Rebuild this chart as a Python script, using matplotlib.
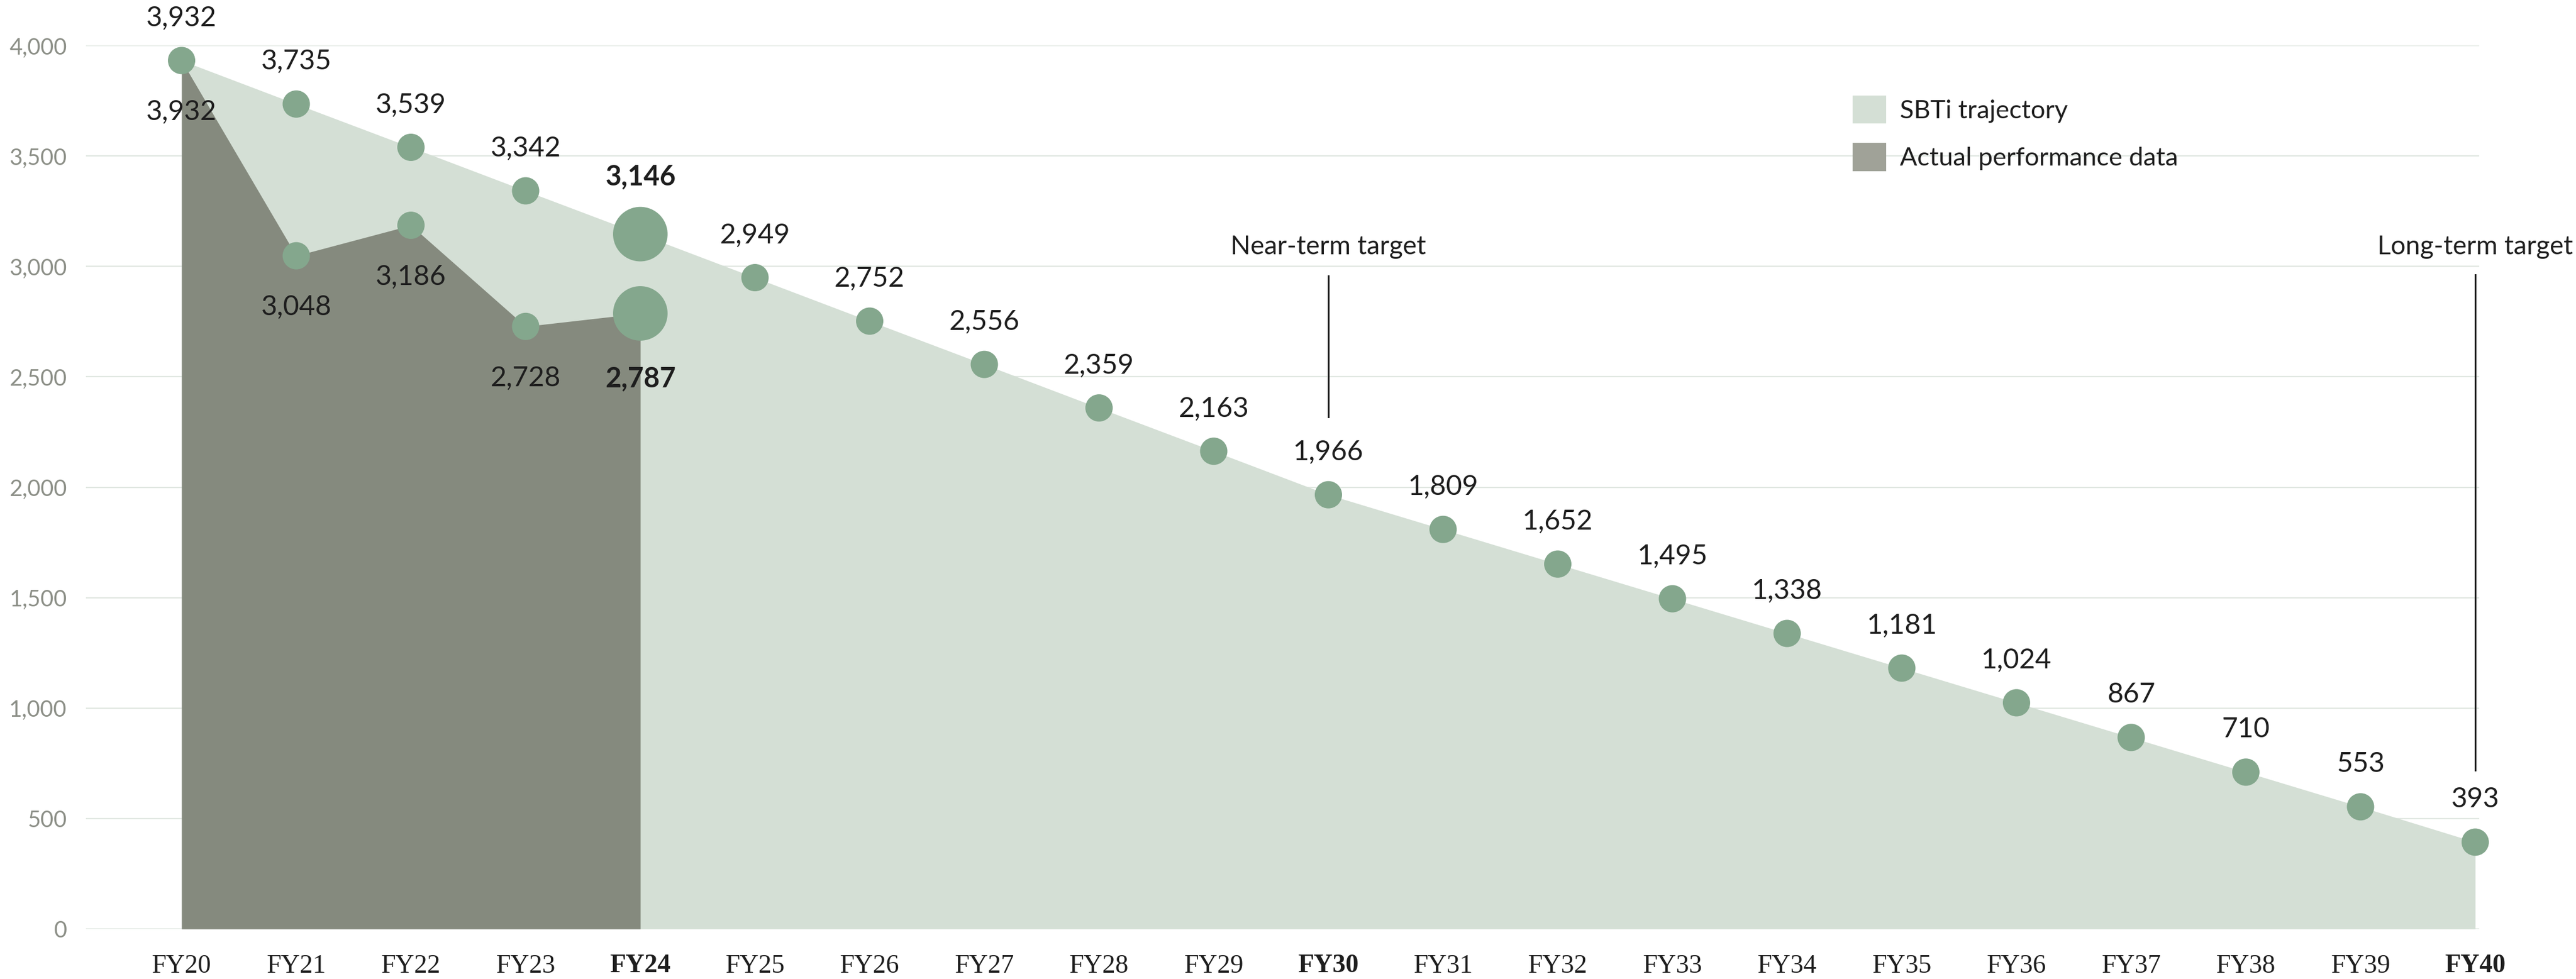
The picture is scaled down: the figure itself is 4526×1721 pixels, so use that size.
import numpy as np
import matplotlib
matplotlib.use("Agg")
import matplotlib.pyplot as plt
from matplotlib.patches import Patch

# ---------------- data ----------------
years = ["FY%d" % y for y in range(20, 41)]
sbti = [3932, 3735, 3539, 3342, 3146, 2949, 2752, 2556, 2359, 2163, 1966,
        1809, 1652, 1495, 1338, 1181, 1024, 867, 710, 553, 393]
actual = [3932, 3048, 3186, 2728, 2787]
bold_years = ["FY24", "FY30", "FY40"]
targets = [("FY30", "Near-term target", 2957, 2318), ("FY40", "Long-term target", 2962, 719)]
yticks = [0, 500, 1000, 1500, 2000, 2500, 3000, 3500, 4000]

# colours
light = "#d4dfd5"
dark = "#858a7e"
dot = "#84a78d"
grid = "#e0e7e1"
txt = "#1e1e1e"
tickgrey = "#8c8f87"

plt.rcParams['font.family'] = ['Lato', 'DejaVu Sans']

fig = plt.figure(figsize=(45.26, 17.21), dpi=100)
ax = fig.add_axes([151 / 4526, 88 / 1721, (4356 - 151) / 4526, (1633 - 80) / 1721])

x = np.arange(len(years))
xa = x[:len(actual)]

# fills
ax.fill_between(x, 0, sbti, color=light, lw=0, zorder=1)
ax.fill_between(xa, 0, actual, color=dark, lw=0, zorder=2)

# dots
sizes = [4760 if years[i] == "FY24" else 1195 for i in range(len(x))]
ax.scatter(x, sbti, s=sizes, color=dot, lw=0, zorder=4, clip_on=False)
ax.scatter(xa[1:], actual[1:], s=sizes[1:len(actual)], color=dot, lw=0, zorder=4, clip_on=False)

# labels
for i, v in enumerate(sbti):
    big = years[i] == "FY24"
    ax.annotate(f"{v:,}", (x[i], v), xytext=(0, 72 if big else 54), textcoords="offset points",
                ha="center", va="center", fontsize=35, color=txt,
                fontweight="bold" if big else "normal", zorder=5, annotation_clip=False)
for i, v in enumerate(actual):
    big = years[i] == "FY24"
    ax.annotate(f"{v:,}", (xa[i], v), xytext=(0, -83 if big else -65), textcoords="offset points",
                ha="center", va="center", fontsize=35, color=txt,
                fontweight="bold" if big else "normal", zorder=5, annotation_clip=False)

# target markers
for yr, lab, y0, y1 in targets:
    xi = years.index(yr)
    ax.plot([xi, xi], [y1, y0], color=txt, lw=2.2, zorder=5, clip_on=False)
    ax.text(xi, 3088, lab, ha="center", va="center", fontsize=33, color=txt, zorder=5)

# axes styling
ax.set_xlim(-0.834, 20.035)
ax.set_ylim(0, 4000)
ax.set_yticks(yticks)
ax.set_yticklabels([f"{t:,}" for t in yticks], fontsize=28.5, color=tickgrey)
ax.set_xticks(x)
ax.set_xticklabels(years, fontsize=33, color=txt, family="Liberation Serif")
for lab in ax.get_xticklabels():
    if lab.get_text() in bold_years:
        lab.set_fontweight("bold")
ax.tick_params(axis="y", length=0, pad=24)
ax.tick_params(axis="x", length=0, pad=32)
for s in ax.spines.values():
    s.set_visible(False)
ax.grid(axis="y", color=grid, lw=1.6, zorder=0)
ax.set_axisbelow(True)

handles = [Patch(color=light, lw=0), Patch(color="#a0a298", lw=0)]
fig.legend(handles, ["SBTi trajectory", "Actual performance data"], loc="upper left",
           bbox_to_anchor=(3255 / 4526, 1 - 168 / 1721), frameon=False, fontsize=32.5,
           borderpad=0, borderaxespad=0, handlelength=1.31, handleheight=1.31,
           handletextpad=0.53, labelspacing=0.75, labelcolor=txt)

fig.savefig("out.png", dpi=100, facecolor="white")
